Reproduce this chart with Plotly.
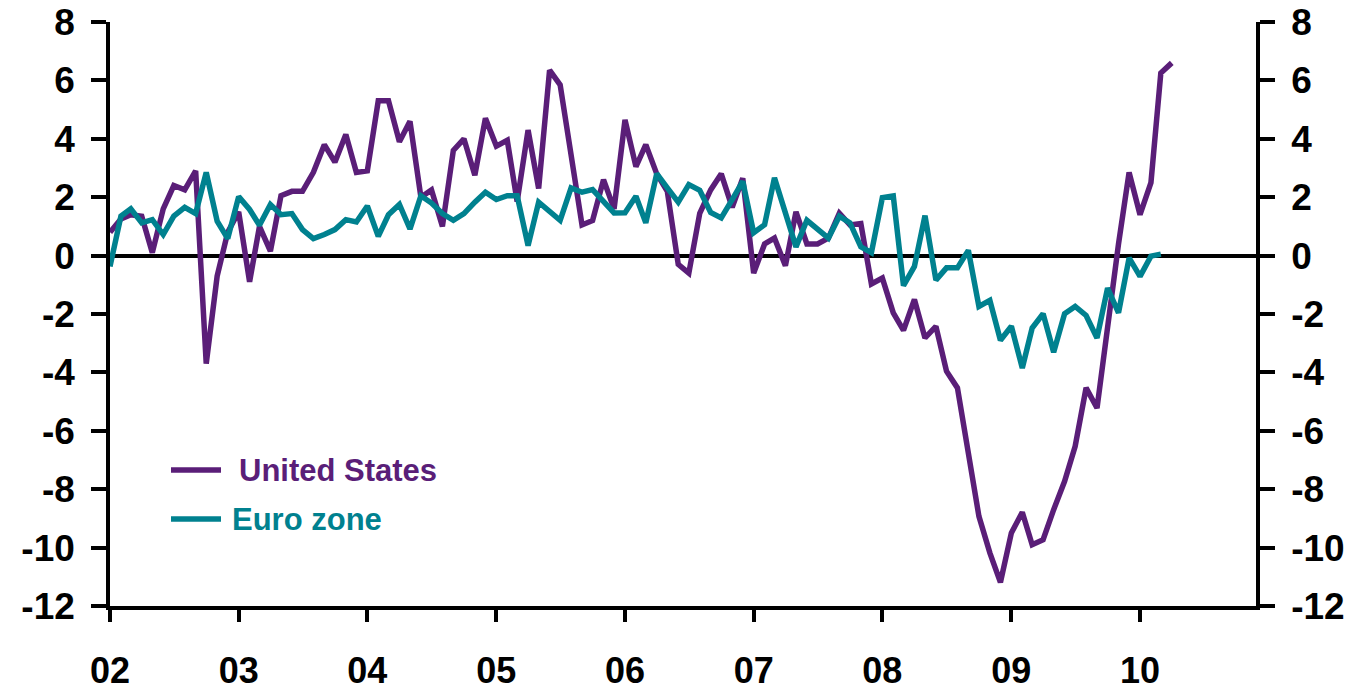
import pandas as pd
import plotly.graph_objects as go

# Monthly values, starting January 2002
us_values = [
    0.8, 1.25, 1.4, 1.35, 0.1, 1.6, 2.4, 2.25, 2.9, -3.7, -0.7, 0.8,
    1.5, -0.9, 1.0, 0.15, 2.05, 2.2, 2.2, 2.85, 3.8, 3.2, 4.15, 2.85,
    2.9, 5.3, 5.3, 3.9, 4.6, 2.0, 2.25, 1.0, 3.6, 4.0, 2.75, 4.7,
    3.75, 3.95, 1.85, 4.3, 2.3, 6.35, 5.85, 3.5, 1.05, 1.2, 2.6, 1.6,
    4.65, 3.05, 3.8, 2.8, 2.2, -0.3, -0.6, 1.45, 2.25, 2.8, 1.65, 2.65,
    -0.6, 0.4, 0.6, -0.35, 1.5, 0.4, 0.4, 0.6, 1.45, 1.05, 1.1, -0.97,
    -0.77, -1.96, -2.56, -1.5, -2.82, -2.42, -3.96, -4.53, -6.76, -8.93, -10.18, -11.19,
    -9.5, -8.79, -9.9, -9.73, -8.7, -7.73, -6.53, -4.53, -5.22, -2.4, 0.4, 2.85,
    1.4, 2.5, 6.25, 6.6,
]
euro_values = [
    -0.37, 1.35, 1.6, 1.12, 1.23, 0.72, 1.35, 1.65, 1.44, 2.85, 1.18, 0.58,
    2.02, 1.58, 1.04, 1.75, 1.4, 1.44, 0.89, 0.58, 0.72, 0.89, 1.23, 1.15,
    1.7, 0.66, 1.4, 1.75, 0.91, 2.05, 1.8, 1.44, 1.21, 1.44, 1.83, 2.17,
    1.92, 2.05, 2.05, 0.34, 1.83, 1.52, 1.21, 2.32, 2.17, 2.26, 1.86, 1.46,
    1.47, 2.03, 1.12, 2.81, 2.32, 1.83, 2.43, 2.24, 1.48, 1.29, 1.92, 2.54,
    0.78, 1.06, 2.66, 1.46, 0.3, 1.21, 0.89, 0.6, 1.35, 1.12, 0.3, 0.1,
    1.98, 2.04, -1.03, -0.37, 1.37, -0.84, -0.42, -0.42, 0.18, -1.74, -1.53, -2.9,
    -2.42, -3.85, -2.48, -1.99, -3.31, -1.99, -1.74, -2.05, -2.82, -1.11, -1.96, -0.08,
    -0.71, -0.02, 0.05,
]
series_names = ["United States", "Euro zone"]
series_colors = ["#5a1e78", "#00818f"]
year_ticks = [f"{y}-01-01" for y in range(2002, 2011)]
year_labels = ["02", "03", "04", "05", "06", "07", "08", "09", "10"]
y_ticks = list(range(-12, 9, 2))

us_dates = pd.date_range("2002-01-01", periods=len(us_values), freq="MS")
euro_dates = pd.date_range("2002-01-01", periods=len(euro_values), freq="MS")

FONT = "Arial, Liberation Sans, sans-serif"

fig = go.Figure()
fig.add_trace(go.Scatter(x=us_dates, y=us_values, mode="lines", name=series_names[0],
                         line=dict(color=series_colors[0], width=5.5), yaxis="y"))
fig.add_trace(go.Scatter(x=euro_dates, y=euro_values, mode="lines", name=series_names[1],
                         line=dict(color=series_colors[1], width=5.5), yaxis="y2"))

axis_common = dict(
    range=[-12, 8], tickvals=y_ticks, ticktext=[str(v) for v in y_ticks],
    showline=True, linecolor="black", linewidth=3.5,
    ticks="outside", ticklen=15, tickwidth=3.5, tickcolor="black",
    showgrid=False, ticklabelstandoff=9, automargin=False,
    ticklabeloverflow="allow",
    tickfont=dict(family=FONT, size=37, color="black", weight="bold"),
)

fig.update_layout(
    width=1358, height=691,
    margin=dict(l=110, r=102, t=22, b=85, autoexpand=False),
    paper_bgcolor="white", plot_bgcolor="white",
    showlegend=False,
    xaxis=dict(
        type="date", range=["2002-01-01", "2010-11-26"],
        tickvals=year_ticks, ticktext=year_labels,
        showline=True, linecolor="black", linewidth=3.5,
        ticks="outside", ticklen=12, tickwidth=3.5, tickcolor="black",
        showgrid=False, zeroline=False, ticklabelstandoff=18, automargin=False,
        ticklabeloverflow="allow",
        tickfont=dict(family=FONT, size=36, color="black", weight="bold"),
    ),
    yaxis=dict(side="left", zeroline=True, zerolinecolor="black", zerolinewidth=3.5,
               **axis_common),
    yaxis2=dict(side="right", overlaying="y", zeroline=False, **axis_common),
)

# Legend drawn inside the plot area
plot_l, plot_r, plot_t, plot_b = 110, 1256, 22, 606
def px(x):
    return (x - plot_l) / (plot_r - plot_l)
def py(y):
    return (plot_b - y) / (plot_b - plot_t)

legend_rows = [(470, 237), (519, 230)]
for (ly, tx), name, color in zip(legend_rows, series_names, series_colors):
    fig.add_shape(type="line", xref="paper", yref="paper",
                  x0=px(171), x1=px(221), y0=py(ly), y1=py(ly),
                  line=dict(color=color, width=5.5))
    fig.add_annotation(xref="paper", yref="paper", x=px(tx), y=py(ly),
                       xanchor="left", yanchor="middle", showarrow=False,
                       text=name,
                       font=dict(family=FONT, size=31, color=color, weight="bold"))

fig.write_html(
    "out.html",
    config={"displayModeBar": False},
    post_script="document.body.style.margin='0';document.body.style.overflow='hidden';",
)
